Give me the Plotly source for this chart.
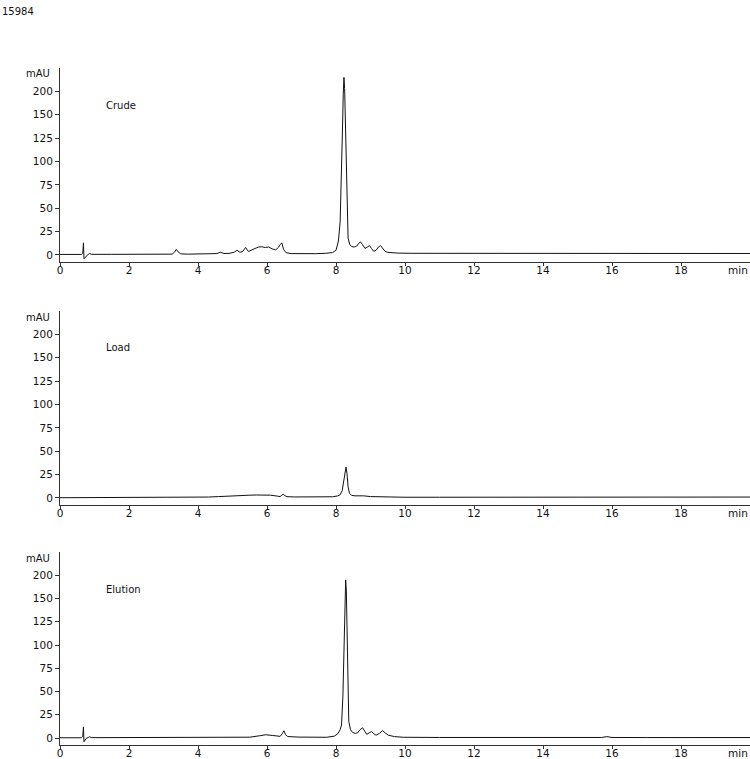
import plotly.graph_objects as go

# ---------------- data ----------------
crude_t = [0.0, 0.62, 0.66, 0.68, 0.695, 0.72, 0.76, 0.82, 0.86, 0.92, 1.5, 2.5, 3.25, 3.32, 3.37,
           3.42, 3.5, 3.7, 4.0, 4.15, 4.4, 4.55, 4.64, 4.75, 4.9, 5.05, 5.13, 5.22, 5.3, 5.38, 5.46,
           5.55, 5.65, 5.75, 5.85, 5.95, 6.05, 6.15, 6.25, 6.33, 6.38, 6.43, 6.48, 6.55, 6.7, 7.0,
           7.4, 7.7, 7.9, 8.0, 8.07, 8.12, 8.16, 8.19, 8.21, 8.23, 8.25, 8.27, 8.3, 8.32, 8.35, 8.4,
           8.46, 8.53, 8.6, 8.66, 8.71, 8.77, 8.84, 8.91, 8.97, 9.03, 9.09, 9.16, 9.23, 9.29, 9.35,
           9.42, 9.5, 9.6, 9.8, 10.2, 11, 12, 13, 14, 15, 15.7, 15.9, 16.1, 17, 18, 19, 20]
crude_v = [0.6, 0.6, 2, 13, -4, -3, -0.5, 0.8, 1.6, 0.7, 0.7, 0.8, 0.9, 3, 6,
           3.5, 1.2, 0.9, 0.9, 1.4, 1.6, 1.5, 3, 1.6, 1.7, 3, 5, 2.8, 4, 8, 3.8,
           5.5, 7.5, 8.5, 8.8, 8, 8.6, 6.5, 5.5, 8, 11, 13, 6, 2.5, 1.5, 1.2,
           1.4, 1.8, 2.6, 5, 15, 35, 80, 138, 172, 190, 178, 145, 80, 38, 18, 11,
           9, 8.5, 9.5, 12.5, 14, 11, 7, 8.5, 10, 7, 4, 5, 8.5, 10, 7,
           4, 2.8, 2.3, 2, 1.8, 1.8, 1.6, 1.6, 1.5, 1.5, 1.6, 2.2, 1.6, 1.5, 1.5, 1.6, 1.6]

load_t = [0, 1, 2, 3, 4, 4.3, 4.6, 4.8, 5.0, 5.3, 5.5, 5.7, 5.94, 6.1, 6.3, 6.38, 6.43, 6.47,
          6.52, 6.58, 6.8, 7.2, 7.6, 7.9, 8.05, 8.12, 8.18, 8.21, 8.25, 8.29, 8.32, 8.35, 8.39,
          8.45, 8.55, 8.7, 8.8, 9.0, 9.4, 10, 11, 12, 13, 14, 15, 16, 17, 18, 19, 20]
load_v = [0.3, 0.3, 0.3, 0.4, 0.5, 1, 1.5, 2, 2.3, 2.5, 3, 3.2, 3.3, 3.0, 2, 1.5, 3, 4,
          2.5, 1.4, 1.1, 1, 1, 1.3, 2.2, 3.5, 8, 14, 26, 33, 26, 12, 5,
          2.8, 2.3, 2.7, 2.3, 1.5, 1.0, 0.8, 0.8, 0.9, 0.8, 0.8, 0.8, 1.2, 1.2, 1.0, 1.0, 1.0]

elution_t = [0, 0.62, 0.66, 0.68, 0.695, 0.72, 0.76, 0.82, 0.86, 0.92, 2, 3, 4, 5, 5.5, 5.8,
             5.96, 6.15, 6.38, 6.44, 6.49, 6.54, 6.6, 6.9, 7.4, 7.73, 7.95, 8.05, 8.12, 8.16,
             8.2, 8.23, 8.26, 8.28, 8.30, 8.32, 8.34, 8.37, 8.42, 8.48, 8.56, 8.62, 8.7, 8.77,
             8.84, 8.89, 8.96, 9.03, 9.1, 9.16, 9.26, 9.35, 9.44, 9.52, 9.7, 9.95, 11, 12, 13,
             14, 15, 15.7, 15.85, 16.0, 17, 18, 19, 20]
elution_v = [0.3, 0.3, 2, 12, -4, -2.5, -0.3, 0.6, 1.3, 0.4, 0.4, 0.5, 0.6, 0.8, 0.9, 2.5,
             3.5, 2.8, 1.8, 4.5, 7.8, 3.5, 1.6, 1.0, 0.8, 0.8, 2, 4.5, 9, 14,
             45, 100, 150, 170, 158, 110, 50, 18, 9, 6, 5, 5.5, 9, 11,
             7, 4, 5.5, 7, 4.5, 3, 5, 8, 5, 3, 1.5, 0.8, 0.6, 0.5, 0.5,
             0.5, 0.5, 0.6, 1.5, 0.6, 0.5, 0.5, 0.5, 0.5]

panel_names = ["Crude", "Load", "Elution"]
x_tick_vals = [0, 2, 4, 6, 8, 10, 12, 14, 16, 18]
y_tick_vals = [0, 25, 50, 75, 100, 125, 150, 175]
y_tick_text = ["0", "25", "50", "75", "100", "125", "150", "200"]
sample_id = "15984"

# ---------------- figure ----------------
FONT = "DejaVu Sans"
W, H = 750, 759
ML, MR, MT, MB = 60, 0, 68, 14
plot_h = H - MT - MB
# panel pixel extents (top, bottom)
panels_px = [(68, 262), (311, 505), (552, 745)]
domains = [[(H - MB - b) / plot_h, (H - MB - t) / plot_h] for t, b in panels_px]

fig = go.Figure()
series = [(crude_t, crude_v), (load_t, load_v), (elution_t, elution_v)]
for i, (t, v) in enumerate(series):
    n = "" if i == 0 else str(i + 1)
    fig.add_trace(go.Scatter(x=t, y=v, mode="lines", xaxis="x" + n, yaxis="y" + n,
                             line=dict(color="#111111", width=1), showlegend=False,
                             hoverinfo="skip"))

axis_common = dict(showline=True, linecolor="#333333", linewidth=1, ticks="outside",
                   ticklen=4, tickcolor="#333333", showgrid=False, zeroline=False,
                   tickfont=dict(family=FONT, size=10.5, color="#111111"))

layout = dict(width=W, height=H,
              margin=dict(l=ML, r=MR, t=MT, b=MB, autoexpand=False),
              plot_bgcolor="white", paper_bgcolor="white", showlegend=False)
annotations = []
for i in range(3):
    n = "" if i == 0 else str(i + 1)
    layout["xaxis" + n] = dict(axis_common, range=[0, 20], tickvals=x_tick_vals,
                               anchor="y" + n, domain=[0, 1], fixedrange=True,
                               ticklen=3, ticklabelstandoff=-5)
    layout["yaxis" + n] = dict(axis_common, range=[-7.5, 200], tickvals=y_tick_vals,
                               ticktext=y_tick_text, anchor="x" + n,
                               domain=domains[i], fixedrange=True)
    top_px, bot_px = panels_px[i]
    # y unit label
    annotations.append(dict(text="mAU", xref="paper", yref="paper", x=-8 / (W - ML - MR),
                            y=(H - MB - (top_px + 6)) / plot_h, xanchor="right",
                            yanchor="middle", showarrow=False,
                            font=dict(family=FONT, size=10, color="#111111")))
    # panel name
    annotations.append(dict(text=panel_names[i], xref="paper", yref="paper",
                            x=44 / (W - ML - MR), y=(H - MB - (top_px + 37)) / plot_h,
                            xanchor="left", yanchor="middle", showarrow=False,
                            font=dict(family=FONT, size=10, color="#111111")))
    # x unit label
    annotations.append(dict(text="min", xref="paper", yref="paper", x=1.0,
                            y=(H - MB - (bot_px + 8)) / plot_h, xanchor="right",
                            yanchor="middle", showarrow=False,
                            font=dict(family=FONT, size=10.5, color="#111111")))

annotations.append(dict(text=sample_id, xref="paper", yref="paper", x=-ML / (W - ML - MR),
                        y=(H - MB - 12) / plot_h, xanchor="left", yanchor="middle",
                        showarrow=False, font=dict(family=FONT, size=10, color="#111111")))
layout["annotations"] = annotations
fig.update_layout(**layout)

fig.write_html("out.html")
